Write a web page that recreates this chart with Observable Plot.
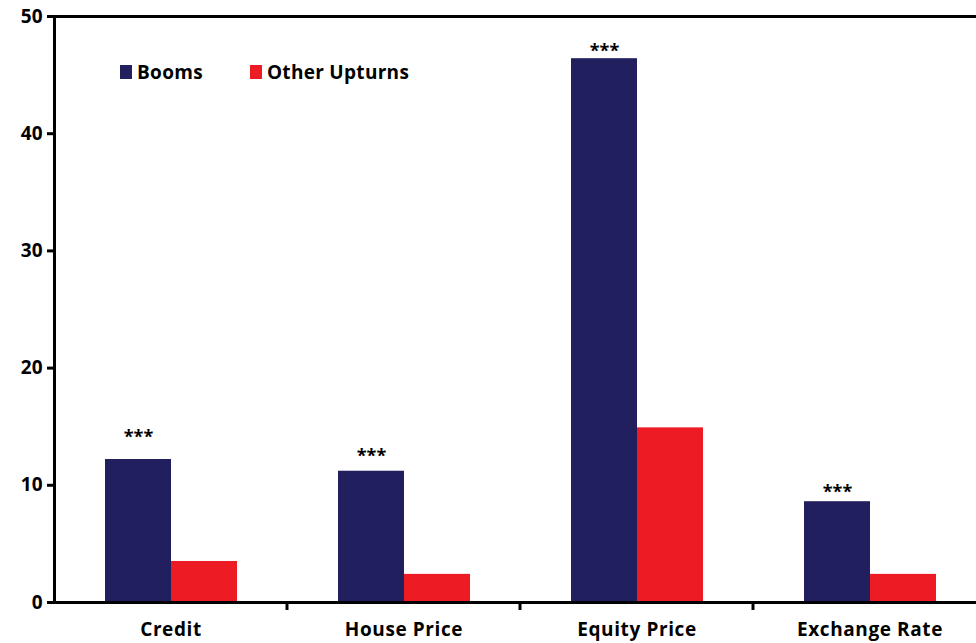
<!DOCTYPE html>
<html>
<head>
<meta charset="utf-8">
<script src="https://cdn.jsdelivr.net/npm/d3@7"></script>
<script src="https://cdn.jsdelivr.net/npm/@observablehq/plot@0.6"></script>
<style>
  html, body { margin: 0; padding: 0; background: white; overflow: hidden; }
  #wrap { position: relative; width: 976px; height: 643px; }
  .legend { position: absolute; top: 59px; left: 120px; display: flex; align-items: center;
            font-family: 'Open Sans', sans-serif; font-weight: bold; font-size: 19px; color: black; letter-spacing: 0.3px; }
  .legend .item { display: flex; align-items: center; margin-right: 47px; }
  .legend .sw { width: 12px; height: 14px; margin-right: 5px; display: inline-block; }
</style>
</head>
<body>
<div id="wrap"></div>
<script>
const categories = ["Credit", "House Price", "Equity Price", "Exchange Rate"];
const series = ["Booms", "Other Upturns"];
const booms = [12.2, 11.2, 46.4, 8.6];
const otherUpturns = [3.5, 2.4, 14.9, 2.4];
const starLabelY = [14.7, 13.1, 47.6, 10.0];
const starText = "***";
const yTicks = [0, 10, 20, 30, 40, 50];
const colors = ["#211F5E", "#ED1C24"];

const data = categories.flatMap((c, i) => [
  {category: c, series: series[0], value: booms[i]},
  {category: c, series: series[1], value: otherUpturns[i]}
]);
const stars = categories.map((c, i) => ({category: c, series: series[0], y: starLabelY[i], text: starText}));

const plot = Plot.plot({
  width: 976,
  height: 643,
  marginLeft: 54,
  marginRight: 0,
  marginTop: 16,
  marginBottom: 41,
  style: {fontFamily: "'Open Sans', sans-serif", background: "white", overflow: "visible", color: "black"},
  fx: {domain: categories, range: [54, 986], padding: 0, label: null},
  x: {domain: series, paddingInner: 0, paddingOuter: 0.74, axis: null},
  y: {domain: [0, 50], label: null},
  color: {domain: series, range: colors},
  marks: [
    Plot.barY(data, {fx: "category", x: "series", y: "value", fill: "series"}),
    Plot.text(stars, {fx: "category", x: "series", y: "y", text: "text", lineAnchor: "top", fontSize: 18, fontWeight: "bold", fill: "black"}),
    Plot.ruleY([0], {stroke: "black", strokeWidth: 3}),
    Plot.ruleY([50], {stroke: "black", strokeWidth: 3}),
    Plot.frame({anchor: "left", stroke: "black", strokeWidth: 3, facetAnchor: "left"}),
    Plot.axisY({ticks: yTicks, tickSize: 7, tickPadding: 5, strokeWidth: 3, stroke: "black", fontSize: 19, fontWeight: "bold", label: null}),
    Plot.axisFx({anchor: "bottom", tickSize: 0, tickPadding: 20, fontSize: 19, fontWeight: "bold", label: null})
  ]
});

// category boundary ticks below the x axis, placed from the fx scale
const fx = plot.scale("fx");
const ys = plot.scale("y");
const svg = d3.select(plot);
const y0 = ys.apply(0);
categories.slice(1).forEach(c => {
  const x = fx.apply(c);
  svg.append("line")
    .attr("x1", x).attr("x2", x)
    .attr("y1", y0).attr("y2", y0 + 8)
    .attr("stroke", "black").attr("stroke-width", 3);
});
svg.selectAll("[aria-label='fx-axis tick label'] text").style("letter-spacing", "0.6px");

const wrap = document.getElementById("wrap");
wrap.appendChild(plot);

const legend = document.createElement("div");
legend.className = "legend";
series.forEach((s, i) => {
  const item = document.createElement("div");
  item.className = "item";
  const sw = document.createElement("span");
  sw.className = "sw";
  sw.style.background = colors[i];
  const t = document.createElement("span");
  t.textContent = s;
  item.appendChild(sw);
  item.appendChild(t);
  legend.appendChild(item);
});
wrap.appendChild(legend);
</script>
</body>
</html>
